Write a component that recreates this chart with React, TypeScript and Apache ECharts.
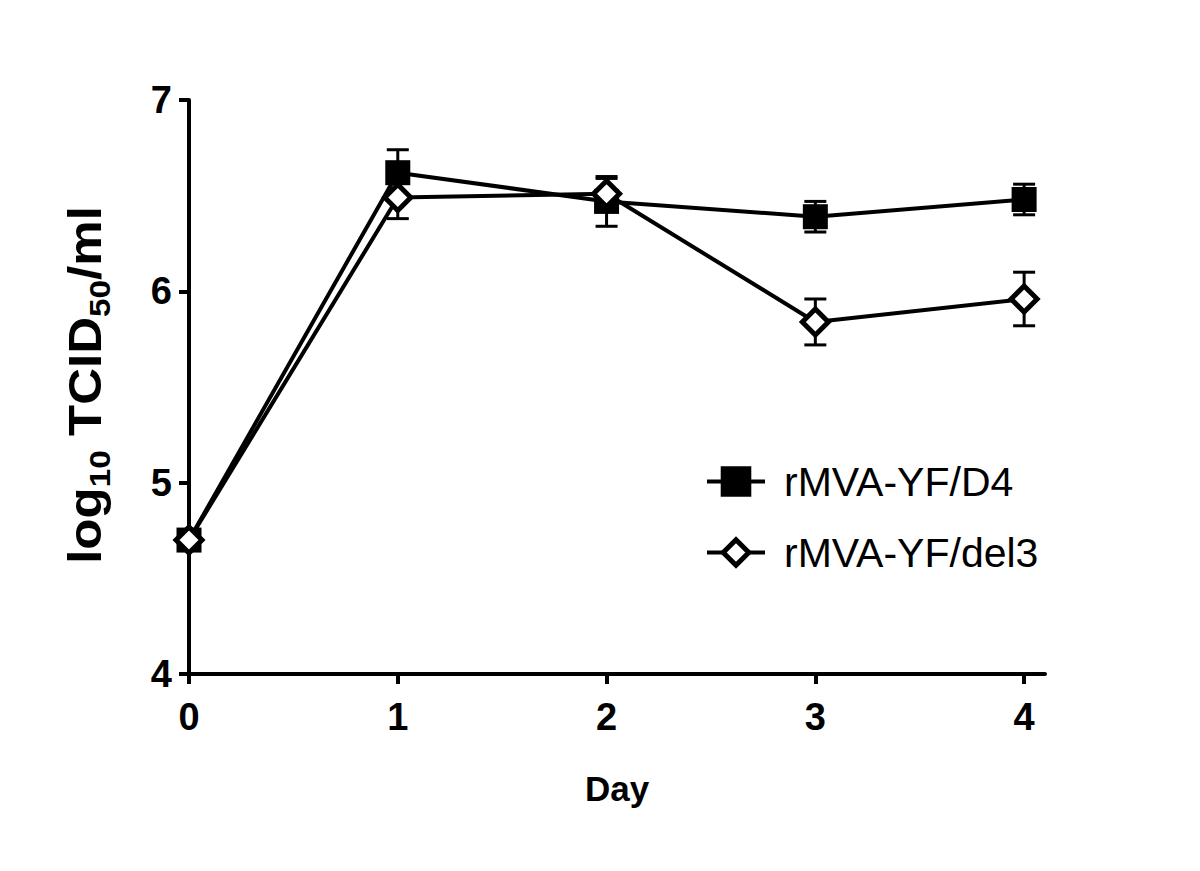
import React, { useEffect, useRef } from "react";
import * as echarts from "echarts";

const days = [0, 1, 2, 3, 4];
const d4Mean = [4.7, 6.62, 6.47, 6.39, 6.48];
const d4Err = [0, 0.12, 0.13, 0.08, 0.08];
const del3Mean = [4.7, 6.49, 6.51, 5.84, 5.96];
const del3Err = [0, 0.11, 0.08, 0.12, 0.14];
const yTicks = [4, 5, 6, 7];
const xTicks = [0, 1, 2, 3, 4];
const seriesNames = ["rMVA-YF/D4", "rMVA-YF/del3"];

const FONT = "'Liberation Sans', Arial, Helvetica, sans-serif";

function errData(mean: number[], err: number[]) {
  const out: number[][] = [];
  days.forEach((d, i) => {
    if (err[i] > 0) out.push([d, mean[i] - err[i], mean[i] + err[i]]);
  });
  return out;
}

function renderErr(params: any, api: any) {
  const x = api.value(0);
  const lo = api.value(1);
  const hi = api.value(2);
  const pHi = api.coord([x, hi]);
  const pLo = api.coord([x, lo]);
  const cap = 11;
  const st = { stroke: "#000", lineWidth: 3 };
  return {
    type: "group",
    children: [
      { type: "line", shape: { x1: pHi[0], y1: pHi[1], x2: pLo[0], y2: pLo[1] }, style: st },
      { type: "line", shape: { x1: pHi[0] - cap, y1: pHi[1], x2: pHi[0] + cap, y2: pHi[1] }, style: st },
      { type: "line", shape: { x1: pLo[0] - cap, y1: pLo[1], x2: pLo[0] + cap, y2: pLo[1] }, style: st },
    ],
  };
}

export default function App() {
  const ref = useRef<HTMLDivElement>(null);
  useEffect(() => {
    if (!ref.current) return;
    const chart = echarts.init(ref.current, null, { renderer: "svg" });
    const axisText = { fontSize: 38, fontWeight: "bold" as const, color: "#000", fontFamily: FONT };
    chart.setOption({
      animation: false,
      backgroundColor: "#fff",
      grid: { left: 189, top: 100, right: 155, bottom: 197, containLabel: false },
      xAxis: {
        type: "value",
        min: 0,
        max: 4.1,
        interval: 1,
        axisLine: { lineStyle: { color: "#000", width: 4 } },
        axisTick: { length: 10, lineStyle: { color: "#000", width: 4 }, customValues: xTicks },
        axisLabel: { ...axisText, margin: 24, customValues: xTicks },
        splitLine: { show: false },
        name: "Day",
        nameLocation: "middle",
        nameGap: 97,
        nameTextStyle: { fontSize: 35, fontWeight: "bold", color: "#000", fontFamily: FONT },
      },
      yAxis: {
        type: "value",
        min: 4,
        max: 7,
        interval: 1,
        axisLine: { show: true, lineStyle: { color: "#000", width: 4 } },
        axisTick: { show: true, length: 10, lineStyle: { color: "#000", width: 4 }, customValues: yTicks },
        axisLabel: { ...axisText, margin: 17, customValues: yTicks },
        splitLine: { show: false },
      },
      legend: {
        orient: "vertical",
        left: 700,
        top: 456,
        itemWidth: 58,
        itemHeight: 32,
        itemGap: 30,
        data: seriesNames,
        lineStyle: { width: 4 },
        itemStyle: { borderWidth: 5 },
        textStyle: { fontSize: 41, color: "#000", fontFamily: FONT, padding: [0, 0, 0, 14] },
      },
      graphic: [
        {
          type: "text",
          x: 88,
          y: 385,
          rotation: Math.PI / 2,
          scaleX: 1.11,
          style: {
            text: "{a|log}{s|10}{a| TCID}{s|50}{a|/ml}",
            align: "center",
            verticalAlign: "middle",
            fill: "#000",
            rich: {
              a: { fontSize: 46, fontWeight: "bold", fontFamily: FONT, fill: "#000", verticalAlign: "top", lineHeight: 52 },
              s: { fontSize: 30, fontWeight: "bold", fontFamily: FONT, fill: "#000", verticalAlign: "top", padding: [23, 0, 0, 0], lineHeight: 31 },
            },
          },
        },
      ],
      series: [
        {
          type: "custom",
          name: "errD4",
          renderItem: renderErr,
          data: errData(d4Mean, d4Err),
          z: 1,
          silent: true,
        },
        {
          type: "custom",
          name: "errDel3",
          renderItem: renderErr,
          data: errData(del3Mean, del3Err),
          z: 1,
          silent: true,
        },
        {
          type: "line",
          name: seriesNames[0],
          data: days.map((d, i) => [d, d4Mean[i]]),
          symbol: "rect",
          symbolSize: 25,
          lineStyle: { color: "#000", width: 4 },
          itemStyle: { color: "#000", borderColor: "#000", borderWidth: 0 },
          z: 3,
        },
        {
          type: "line",
          name: seriesNames[1],
          data: days.map((d, i) => [d, del3Mean[i]]),
          symbol: "diamond",
          symbolSize: 26,
          lineStyle: { color: "#000", width: 4 },
          itemStyle: { color: "#fff", borderColor: "#000", borderWidth: 5 },
          z: 4,
        },
      ],
    });
    return () => chart.dispose();
  }, []);
  return (
    <div
      ref={ref}
      style={{ position: "fixed", left: 0, top: 0, width: 1200, height: 871, background: "#fff" }}
    />
  );
}
